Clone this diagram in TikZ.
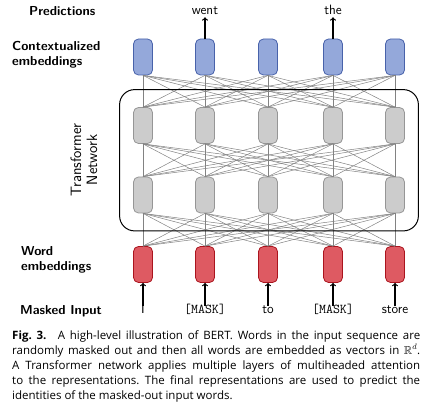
\documentclass[tikz,border=0pt]{standalone}
\usepackage{amsmath,amssymb}
\usepackage{fontspec}
\newfontfamily\capfont{Open Sans}
\usetikzlibrary{fit}

\definecolor{ctxfill}{RGB}{148,168,218}
\definecolor{ctxline}{RGB}{72,98,170}
\definecolor{hidfill}{RGB}{204,204,204}
\definecolor{hidline}{RGB}{150,150,150}
\definecolor{wordfill}{RGB}{222,90,98}
\definecolor{wordline}{RGB}{170,20,30}
\definecolor{linkgray}{RGB}{130,130,130}

\tikzset{
  unit/.style={draw, rounded corners=5pt, minimum width=19pt, minimum height=36pt, inner sep=0pt, line width=0.8pt},
  ctxunit/.style={unit, fill=ctxfill, draw=ctxline},
  hidunit/.style={unit, fill=hidfill, draw=hidline},
  wordunit/.style={unit, fill=wordfill, draw=wordline},
  link/.style={draw=linkgray, line width=0.5pt},
  rowname/.style={anchor=west, align=left, inner sep=0pt, font=\sffamily\bfseries\fontsize{13}{14.5}\selectfont},
  token/.style={inner sep=1pt, text height=1.6ex, text depth=0.3ex, font=\sffamily\fontsize{13.5}{15}\selectfont}
}

\begin{document}
\begin{tikzpicture}[x=1pt, y=-1pt]
\useasboundingbox (0,0) rectangle (436,403);

% Units, one column per token
\foreach \i/\x in {1/143,2/205,3/268,4/333,5/395} {
  \node[ctxunit] (c\i) at (\x,57) {};
  \node[hidunit] (h\i) at (\x,125.5) {};
  \node[hidunit] (g\i) at (\x,195) {};
  \node[wordunit] (w\i) at (\x,264.5) {};
}

% All-to-all links between layers
\foreach \i in {1,...,5}
  \foreach \j in {1,...,5} {
    \draw[link] (c\i.south) -- (h\j.north);
    \draw[link] (h\i.south) -- (g\j.north);
    \draw[link] (g\i.south) -- (w\j.north);
  }

% Transformer box
\node[draw, line width=1pt, rounded corners=15pt, inner xsep=13.5pt, inner ysep=17.5pt, fit=(h1)(g5)] (net) {};
\node[rotate=90, align=center, font=\sffamily\fontsize{15}{16}\selectfont] (netname) at (84,160) {Transformer\\Network};

% Input tokens
\node[token] (i1) at (143,311) {I};
\node[token] (i2) at (205,311) {\ttfamily[MASK]};
\node[token] (i3) at (268,311) {to};
\node[token] (i4) at (333,311) {\ttfamily[MASK]};
\node[token] (i5) at (395,311) {store};
\foreach \i in {1,...,5}
  \draw[->, line width=1.2pt] (i\i.north) -- (w\i.south);

% Predictions
\node[token] (p2) at (205,12) {went};
\node[token] (p4) at (333,12) {the};
\draw[->, line width=1.2pt] (c2.north) -- (p2.south);
\draw[->, line width=1.2pt] (c4.north) -- (p4.south);

% Row names
\node[rowname] (predname) at (29,11) {Predictions};
\node[rowname] (ctxname) at (12,55) {Contextualized\\embeddings};
\node[rowname] (wordname) at (21,260) {Word\\embeddings};
\node[rowname] (inname) at (20,311) {Masked Input};

% Caption
\node[anchor=north west, inner sep=0pt, text width=408pt, align=justify,
  font=\capfont\fontsize{11.5}{15}\selectfont\frenchspacing] (caption) at (12,330)
  {\textbf{Fig.~3.}\hspace{1em}A high-level illustration of BERT. Words in the input sequence are\linebreak
  randomly masked out and then all words are embedded as vectors in $\mathbb{R}^d$.\linebreak
  A Transformer network applies multiple layers of multiheaded attention\linebreak
  to the representations. The final representations are used to predict the\linebreak
  identities of the masked-out input words.};

\end{tikzpicture}
\end{document}
